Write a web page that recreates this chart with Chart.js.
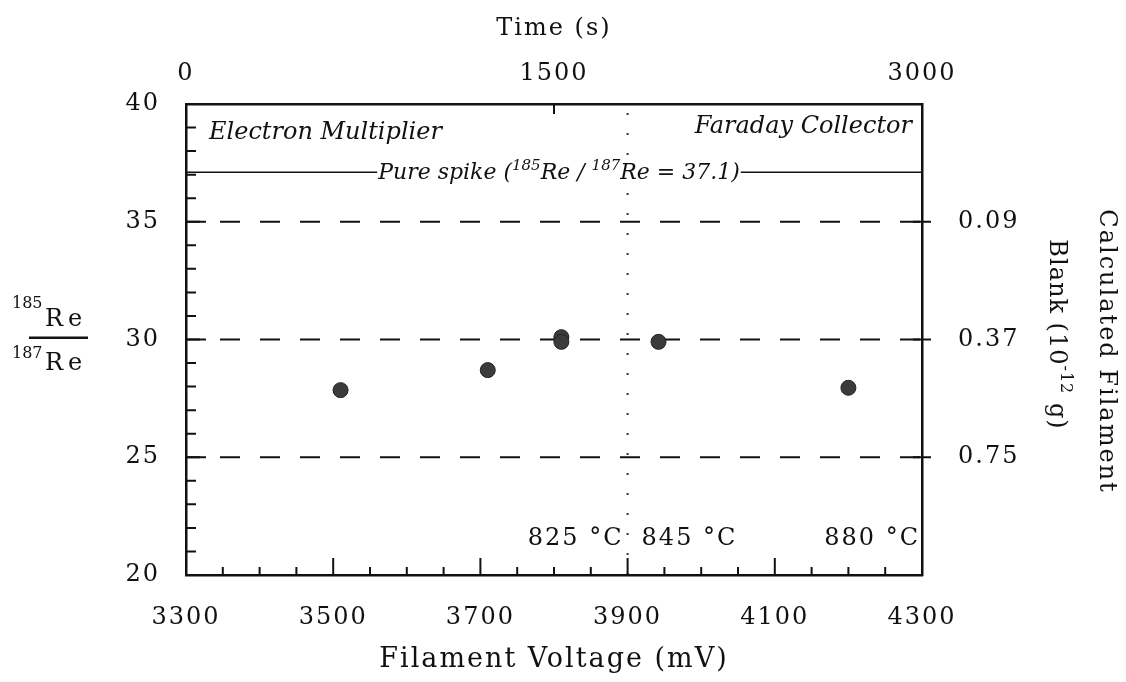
<!DOCTYPE html>
<html>
<head>
<meta charset="utf-8">
<script src="https://cdn.jsdelivr.net/npm/chart.js@4.4.3/dist/chart.umd.min.js"></script>
<style>
  html, body { margin: 0; background: #fff; }
  #wrap { width: 1126px; height: 682px; }
</style>
</head>
<body>
<div id="wrap"><canvas id="chart"></canvas></div>
<script>
// measured points
const voltage = [3510, 3710, 3810, 3810, 3942, 4200]
const ratio = [27.85, 28.7, 30.1, 29.9, 29.9, 27.95]

// axes
const voltRange = [3300, 4300]
const voltTicks = [3300, 3500, 3700, 3900, 4100, 4300]
const ratioRange = [20, 40]
const ratioTicks = [20, 25, 30, 35, 40]
const timeRange = [0, 3000]
const timeTicks = [0, 1500, 3000]

// reference levels and right-hand labels
const refLevels = [35, 30, 25]
const blankLabels = ['0.09', '0.37', '0.75']
const spikeRatio = 37.1
const switchVoltage = 3900
const tempLabels = ['825 °C', '845 °C', '880 °C']
const regionLabels = ['Electron Multiplier', 'Faraday Collector']

const serif = "'DejaVu Serif', serif"
const ink = '#111'

const hline = (y) => [{x: voltRange[0], y: y}, {x: voltRange[1], y: y}]

const datasets = [{
  label: 'ratio',
  data: voltage.map((v, i) => ({x: v, y: ratio[i]})),
  showLine: false,
  pointRadius: 7.5,
  pointBackgroundColor: '#3b3b3b',
  pointBorderColor: '#222',
  pointBorderWidth: 1
}]
refLevels.forEach(l => datasets.push({
  label: 'ref ' + l,
  data: hline(l),
  showLine: true,
  borderColor: ink,
  borderWidth: 2,
  borderDash: [20, 20],
  borderDashOffset: 6,
  pointRadius: 0
}))
datasets.push({
  label: 'spike',
  data: hline(spikeRatio),
  showLine: true,
  borderColor: ink,
  borderWidth: 1.5,
  pointRadius: 0
})
datasets.push({
  label: 'switch',
  data: [{x: switchVoltage, y: ratioRange[0]}, {x: switchVoltage, y: ratioRange[1]}],
  showLine: true,
  borderColor: '#333',
  borderWidth: 2,
  borderDash: [2, 18],
  pointRadius: 0
})

// text made of parts, some of them superscript
function partsWidth(ctx, parts, size, supSize, style) {
  let w = 0
  parts.forEach(p => {
    ctx.font = `${style} ${p.sup ? supSize : size}px ${serif}`
    w += ctx.measureText(p.t).width
  })
  return w
}
function drawParts(ctx, parts, x, y, size, supSize, rise, style) {
  parts.forEach(p => {
    ctx.font = `${style} ${p.sup ? supSize : size}px ${serif}`
    ctx.fillText(p.t, x, p.sup ? y - rise : y)
    x += ctx.measureText(p.t).width
  })
}

const decor = {
  id: 'decor',
  beforeDraw(chart) {
    chart.ctx.letterSpacing = '2px'
  },
  afterDraw(chart) {
    const {ctx, chartArea: a, scales: {x, x2, y, y2}} = chart
    ctx.save()
    ctx.strokeStyle = ink
    ctx.fillStyle = ink
    ctx.lineWidth = 2

    // inward ticks on the left axis
    ctx.beginPath()
    for (let v = ratioRange[0] + 1; v < ratioRange[1]; v++) {
      const py = y.getPixelForValue(v)
      const len = v % 5 === 0 ? 20 : 10
      ctx.moveTo(a.left, py); ctx.lineTo(a.left + len, py)
    }
    // inward ticks on the bottom axis
    for (let v = voltRange[0] + 50; v < voltRange[1]; v += 50) {
      const px = x.getPixelForValue(v)
      const len = voltTicks.includes(v) ? 17 : 8
      ctx.moveTo(px, a.bottom); ctx.lineTo(px, a.bottom - len)
    }
    // top axis ticks
    timeTicks.slice(1, -1).forEach(t => {
      const px = x2.getPixelForValue(t)
      ctx.moveTo(px, a.top); ctx.lineTo(px, a.top + 10)
    })
    // right axis ticks cross the frame
    refLevels.forEach(l => {
      const py = y2.getPixelForValue(l)
      ctx.moveTo(a.right - 9, py); ctx.lineTo(a.right + 9, py)
    })
    ctx.stroke()

    ctx.letterSpacing = '0px'
    ctx.textBaseline = 'alphabetic'

    // spike label sitting on the line
    const spike = [
      {t: 'Pure spike ('}, {t: '185', sup: true}, {t: 'Re / '},
      {t: '187', sup: true}, {t: 'Re = 37.1)'}
    ]
    const sw = partsWidth(ctx, spike, 22, 15, 'italic')
    const sx = (a.left + a.right) / 2 + 5 - sw / 2
    const sy = y.getPixelForValue(spikeRatio)
    ctx.fillStyle = '#fff'
    ctx.fillRect(sx - 1, sy - 16, sw + 2, 30)
    ctx.fillStyle = ink
    ctx.textAlign = 'left'
    drawParts(ctx, spike, sx, sy + 7, 22, 15, 9, 'italic')

    // detector labels
    ctx.font = `italic 24px ${serif}`
    ctx.textAlign = 'left'
    ctx.fillText(regionLabels[0], a.left + 23, a.top + 35)
    ctx.textAlign = 'right'
    ctx.fillText(regionLabels[1], a.right - 10, a.top + 29)

    // temperatures
    ctx.letterSpacing = '2px'
    ctx.font = `24px ${serif}`
    const sp = x.getPixelForValue(switchVoltage)
    const ty = a.bottom - 30
    ctx.textAlign = 'right'
    ctx.fillText(tempLabels[0], sp - 4, ty)
    ctx.textAlign = 'left'
    ctx.fillText(tempLabels[1], sp + 14, ty)
    ctx.textAlign = 'right'
    ctx.fillText(tempLabels[2], a.right - 2, ty)

    // left title: 185Re over 187Re
    const cy = (a.top + a.bottom) / 2
    ctx.textAlign = 'left'
    ctx.font = `16px ${serif}`
    ctx.letterSpacing = '0px'
    ctx.fillText('185', 12, cy - 32)
    ctx.fillText('187', 12, cy + 18)
    ctx.letterSpacing = '5px'
    ctx.font = `24px ${serif}`
    ctx.fillText('Re', 45, cy - 14)
    ctx.fillText('Re', 45, cy + 30)
    ctx.fillRect(29, cy - 3, 59, 2.5)

    // right title, rotated
    ctx.letterSpacing = '2px'
    ctx.save()
    ctx.translate(1100, cy + 12)
    ctx.rotate(Math.PI / 2)
    ctx.textAlign = 'center'
    ctx.font = `24px ${serif}`
    ctx.fillText('Calculated Filament', 0, 0)
    ctx.restore()
    ctx.letterSpacing = '1px'
    const blank = [{t: 'Blank (10'}, {t: '-12', sup: true}, {t: ' g)'}]
    ctx.save()
    ctx.translate(1050, cy - 5)
    ctx.rotate(Math.PI / 2)
    ctx.textAlign = 'left'
    const bw = partsWidth(ctx, blank, 24, 16, 'normal')
    drawParts(ctx, blank, -bw / 2, 0, 24, 16, 11, 'normal')
    ctx.restore()

    ctx.restore()
  }
}

const tickFont = {family: serif, size: 24}
const frame = {display: true, width: 2.5, color: ink}
const noGrid = {display: false, drawTicks: false}

new Chart(document.getElementById('chart'), {
  type: 'scatter',
  data: {datasets: datasets},
  options: {
    responsive: true,
    maintainAspectRatio: false,
    animation: false,
    layout: {padding: 0},
    plugins: {legend: {display: false}, tooltip: {enabled: false}},
    scales: {
      x: {
        type: 'linear', position: 'bottom', min: voltRange[0], max: voltRange[1],
        afterBuildTicks: s => { s.ticks = voltTicks.map(v => ({value: v})) },
        ticks: {font: tickFont, color: ink, padding: 28, maxRotation: 0, callback: v => String(v)},
        grid: noGrid, border: frame,
        title: {display: true, text: 'Filament Voltage (mV)', font: {family: serif, size: 27}, color: ink, padding: {top: 0, bottom: 6}},
        afterFit: s => { s.height = 107 }
      },
      x2: {
        type: 'linear', position: 'top', min: timeRange[0], max: timeRange[1],
        afterBuildTicks: s => { s.ticks = timeTicks.map(v => ({value: v})) },
        ticks: {font: tickFont, color: ink, padding: 16, maxRotation: 0, callback: v => String(v)},
        grid: noGrid, border: frame,
        title: {display: true, text: 'Time (s)', font: tickFont, color: ink, padding: {top: 14, bottom: 0}},
        afterFit: s => { s.height = 104 }
      },
      y: {
        type: 'linear', position: 'left', min: ratioRange[0], max: ratioRange[1],
        afterBuildTicks: s => { s.ticks = ratioTicks.map(v => ({value: v})) },
        ticks: {font: tickFont, color: ink, padding: 26},
        grid: noGrid, border: frame,
        afterFit: s => { s.width = 186 }
      },
      y2: {
        type: 'linear', position: 'right', min: ratioRange[0], max: ratioRange[1],
        afterBuildTicks: s => { s.ticks = refLevels.map(v => ({value: v})) },
        ticks: {font: tickFont, color: ink, padding: 36,
          callback: v => blankLabels[refLevels.indexOf(v)]},
        grid: noGrid, border: frame,
        afterFit: s => { s.width = 204 }
      }
    }
  },
  plugins: [decor]
})
</script>
</body>
</html>
